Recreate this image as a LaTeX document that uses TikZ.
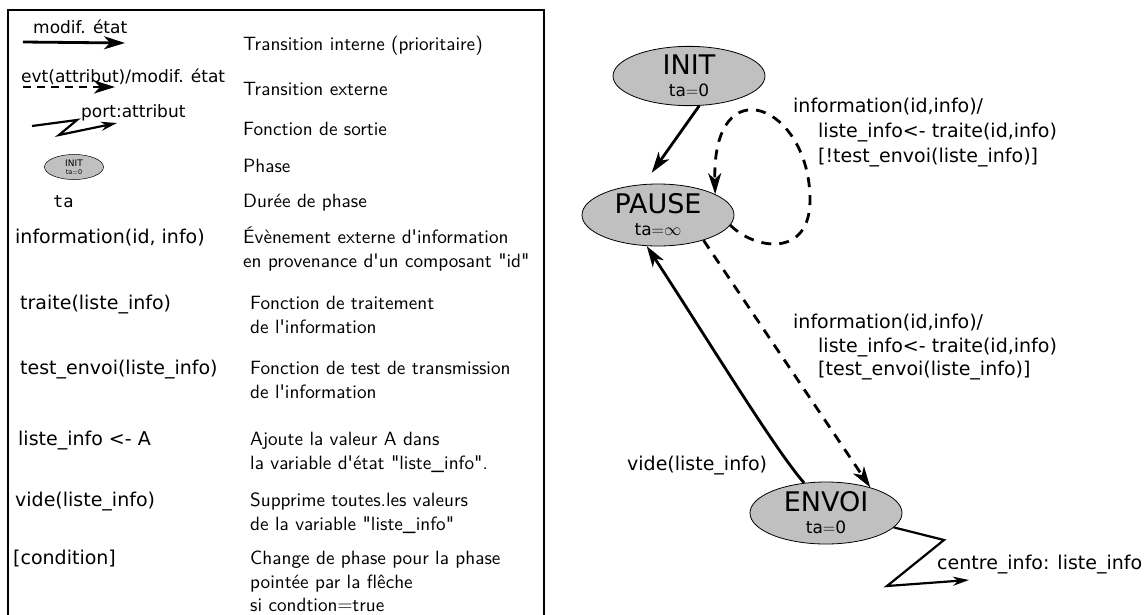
\documentclass[tikz,border=0pt]{standalone}
\usepackage{fontspec}
\usepackage{tikz}
\usetikzlibrary{shapes.geometric,arrows.meta}
\newfontfamily\dejavu{DejaVu Sans}
\newfontfamily\dejavumono{DejaVu Sans Mono}
\newfontfamily\lmsans{lmsans10-regular.otf}
\definecolor{phasegray}{RGB}{192,192,192}

\begin{document}
\begin{tikzpicture}[x=1pt,y=-1pt]
\tikzstyle{every node}+=[inner sep=0pt]
\tikzstyle{phase}=[ellipse, draw, line width=0.8pt, fill=phasegray, align=center, font=\dejavu\fontsize{17}{22}\selectfont, minimum width=152pt, minimum height=62pt]
\tikzstyle{interne}=[line width=2.8pt, -{Stealth[length=21pt,width=13pt,inset=6pt]}]
\tikzstyle{externe}=[interne, dash pattern=on 10pt off 8pt]
\tikzstyle{sortie}=[line width=2.2pt, -{Stealth[length=16pt,width=9pt,inset=5pt]}]
\tikzstyle{fleche}=[font=\dejavu\fontsize{17}{20}\selectfont, anchor=base west]
\tikzstyle{lbl}=[font=\dejavu\fontsize{19}{22}\selectfont, anchor=base west]
\tikzstyle{desc}=[font=\lmsans\fontsize{19.2}{24}\selectfont, anchor=base west]
\useasboundingbox (0,0) rectangle (1146,614);
\draw [line width=1.6pt] (8,10) rectangle (544,640);
% legende
\node [fleche] (lmodif) at (33,33) {modif. état};
\coordinate (ia) at (23,42);
\coordinate (ib) at (125,43);
\draw [interne] (ia) -- (ib);
\node [desc] (dinterne) at (243,50) {Transition interne (prioritaire)};
\node [fleche] (levt) at (21,82) {evt(attribut)/modif. état};
\coordinate (ea) at (23,87);
\coordinate (eb) at (115,87);
\draw [externe, dash pattern=on 8pt off 6pt] (ea) -- (eb);
\node [desc] (dexterne) at (243,95) {Transition externe};
\node [fleche] (lport) at (81,117) {port:attribut};
\coordinate (sa) at (32,126);
\coordinate (sb) at (77,120);
\coordinate (sc) at (59,135);
\coordinate (sd) at (117,123);
\draw [sortie] (sa) -- (sb) -- (sc) -- (sd);
\node [desc] (dsortie) at (243,135) {Fonction de sortie};
\node [phase, minimum width=59pt, minimum height=25pt, line width=0.5pt, font=\dejavu\fontsize{6.5}{8}\selectfont] (lphase) at (74,167) {{\fontsize{9}{9}\selectfont INIT}\\ta$=$0};
\node [desc] (dphase) at (243,172) {Phase};
\node [font=\dejavumono\fontsize{17}{22}\selectfont, anchor=base west] (lta) at (53,207) {ta};
\node [desc] (dta) at (243,207) {Durée de phase};
\node [lbl] (linfo) at (15,243) {information(id, info)};
\node [desc] (dinfo1) at (243,243) {Évènement externe d'information};
\node [desc] (dinfo2) at (243,267) {en provenance d'un composant "id"};
\node [lbl] (ltraite) at (20,309) {traite(liste\_info)};
\node [desc] (dtraite1) at (250,309) {Fonction de traitement};
\node [desc] (dtraite2) at (250,333) {de l'information};
\node [lbl] (ltest) at (20,374) {test\_envoi(liste\_info)};
\node [desc] (dtest1) at (250,374) {Fonction de test de transmission};
\node [desc] (dtest2) at (250,398) {de l'information};
\node [lbl] (lajout) at (18,445) {liste\_info <- A};
\node [desc] (dajout1) at (250,445) {Ajoute la valeur A dans};
\node [desc] (dajout2) at (250,469) {la variable d'état "liste\_info".};
\node [lbl] (lvide) at (15,506) {vide(liste\_info)};
\node [desc] (dvide1) at (250,506) {Supprime toutes.les valeurs};
\node [desc] (dvide2) at (250,530) {de la variable "liste\_info"};
\node [lbl] (lcond) at (13,564) {[condition]};
\node [desc] (dcond1) at (250,564) {Change de phase pour la phase};
\node [desc] (dcond2) at (250,588) {pointée par la flêche};
\node [desc] (dcond3) at (250,611) {si condtion$=$true};
% diagramme
\node [phase, minimum height=56pt] (init) at (689,76) {{\fontsize{27}{27}\selectfont INIT}\\ta$=$0};
\node [phase] (pause) at (658,215) {{\fontsize{27}{27}\selectfont PAUSE}\\ta$=$$\infty$};
\node [phase] (envoi) at (826,513) {{\fontsize{27}{27}\selectfont ENVOI}\\ta$=$0};
\coordinate (loopr) at (810,200);
\draw [interne, shorten >=14pt] (init.-71) -- (pause.115);
\draw [externe] (pause.-8) .. controls (755,250) and (810,258) .. (loopr) .. controls (810,105) and (712,65) .. (pause.20);
\draw [externe] (pause.-29) -- (envoi.30);
\draw [interne] (envoi.126) .. controls (775,450) and (705,335) .. (pause.250);
\coordinate (oa) at (944,540);
\coordinate (ob) at (887,586);
\coordinate (oc) at (969,580);
\draw [sortie] (envoi.-12) -- (oa) -- (ob) -- (oc);
\node [lbl] (lboucle1) at (793,112) {information(id,info)/};
\node [lbl] (lboucle2) at (818,137) {liste\_info<- traite(id,info)};
\node [lbl] (lboucle3) at (818,162) {[!test\_envoi(liste\_info)]};
\node [lbl] (lenvoi1) at (793,328) {information(id,info)/};
\node [lbl] (lenvoi2) at (818,352) {liste\_info<- traite(id,info)};
\node [lbl] (lenvoi3) at (818,375) {[test\_envoi(liste\_info)]};
\node [lbl] (lvidage) at (627,470) {vide(liste\_info)};
\node [lbl] (lcentre) at (937,569) {centre\_info: liste\_info};
\end{tikzpicture}
\end{document}
